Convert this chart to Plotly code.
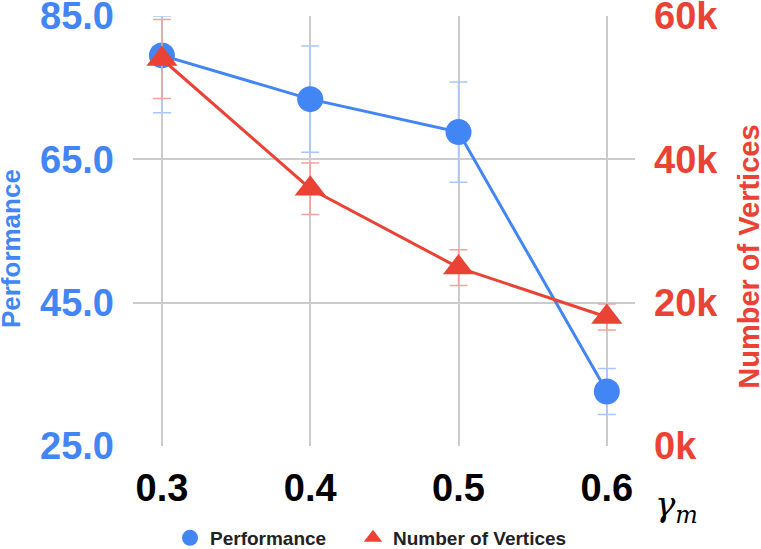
import plotly.graph_objects as go

# gamma_m settings on the x axis
gamma = [0.3, 0.4, 0.5, 0.6]

# performance (left axis) with error bars
perf = [79.5, 73.4, 68.8, 32.6]
perf_err_up = [5.5, 7.4, 7.0, 3.2]
perf_err_down = [8.0, 7.4, 7.0, 3.2]

# number of vertices (right axis) with error bars
verts = [54000, 35900, 24900, 18000]
verts_err = [5500, 3600, 2500, 1800]

perf_ticks = [25, 45, 65, 85]
vert_ticks = [0, 20000, 40000, 60000]
vert_ticktext = ["0k", "20k", "40k", "60k"]

BLUE = "#4285F4"
RED = "#EA4335"
GRID = "#cccccc"
FONT = "Liberation Sans, Arial, sans-serif"

fig = go.Figure()

fig.add_trace(go.Scatter(
    x=gamma, y=perf, mode="lines+markers", name="Performance",
    line=dict(color=BLUE, width=3),
    marker=dict(color=BLUE, size=26, symbol="circle"),
    error_y=dict(type="data", symmetric=False, array=perf_err_up,
                 arrayminus=perf_err_down, color="#a8c7fa",
                 thickness=1.5, width=9),
    showlegend=False, cliponaxis=False,
))
fig.add_trace(go.Scatter(
    x=gamma, y=verts, mode="lines+markers", name="Number of Vertices",
    yaxis="y2",
    line=dict(color=RED, width=3),
    marker=dict(color=RED, size=27, symbol="triangle-up"),
    error_y=dict(type="data", array=verts_err, color="#f5a39c",
                 thickness=1.5, width=9),
    showlegend=False, cliponaxis=False,
))

# legend entries: markers only, like the original (one legend each for spacing)
fig.add_trace(go.Scatter(x=[None], y=[None], mode="markers", name="Performance",
                         marker=dict(color=BLUE, size=20, symbol="circle"),
                         legend="legend"))
fig.add_trace(go.Scatter(x=[None], y=[None], mode="markers", name="Number of Vertices",
                         marker=dict(color=RED, size=20, symbol="triangle-up"),
                         legend="legend2"))

tickfont = dict(family=FONT, size=38, weight="bold")
legfont = dict(family=FONT, size=19, weight="bold", color="#222222")

fig.update_layout(
    width=761, height=549,
    margin=dict(l=133, r=126, t=16, b=103, autoexpand=False),
    plot_bgcolor="white", paper_bgcolor="white",
    xaxis=dict(
        range=[0.2805, 0.619], tickvals=gamma, ticktext=["0.3", "0.4", "0.5", "0.6"],
        showgrid=True, gridcolor=GRID, gridwidth=1.5, zeroline=False,
        showline=False, ticks="", ticklabelstandoff=16, automargin=False,
        ticklabeloverflow="allow",
        tickfont=dict(tickfont, color="black"),
    ),
    yaxis=dict(
        range=[25, 85], tickvals=perf_ticks, tickformat=".1f",
        showgrid=True, gridcolor=GRID, gridwidth=1.5, zeroline=False,
        showline=False, ticks="", ticklabelstandoff=18, automargin=False,
        ticklabeloverflow="allow",
        tickfont=dict(tickfont, color=BLUE),
    ),
    yaxis2=dict(
        range=[0, 60000], tickvals=vert_ticks, ticktext=vert_ticktext,
        overlaying="y", side="right", showgrid=False, zeroline=False,
        showline=False, ticks="", ticklabelstandoff=18, automargin=False,
        ticklabeloverflow="allow",
        tickfont=dict(tickfont, color=RED),
    ),
    legend=dict(
        orientation="h", x=(170 - 133) / 502, xanchor="left",
        y=-0.214, yanchor="middle", font=legfont, itemclick=False,
    ),
    legend2=dict(
        orientation="h", x=(353 - 133) / 502, xanchor="left",
        y=-0.214, yanchor="middle", font=legfont, itemclick=False,
    ),
    annotations=[
        dict(text="Performance", xref="paper", yref="paper",
             x=-0.243, y=0.458, xanchor="center", yanchor="middle",
             textangle=-90, showarrow=False,
             font=dict(family=FONT, size=26, weight="bold", color=BLUE)),
        dict(text="Number of Vertices", xref="paper", yref="paper",
             x=1.227, y=0.440, xanchor="center", yanchor="middle",
             textangle=-90, showarrow=False,
             font=dict(family=FONT, size=29, weight="bold", color=RED)),
        dict(text="<i>γ</i><sub><i>m</i></sub>", xref="paper", yref="paper",
             x=1.082, y=-0.14, xanchor="center", yanchor="middle",
             showarrow=False,
             font=dict(family="DejaVu Serif, serif", size=34,
                       color="black")),
    ],
)

# drop the default page margin so the figure sits at the window's corner
fig.write_html("out.html", config={"displayModeBar": False},
               post_script="document.body.style.margin='0';")
